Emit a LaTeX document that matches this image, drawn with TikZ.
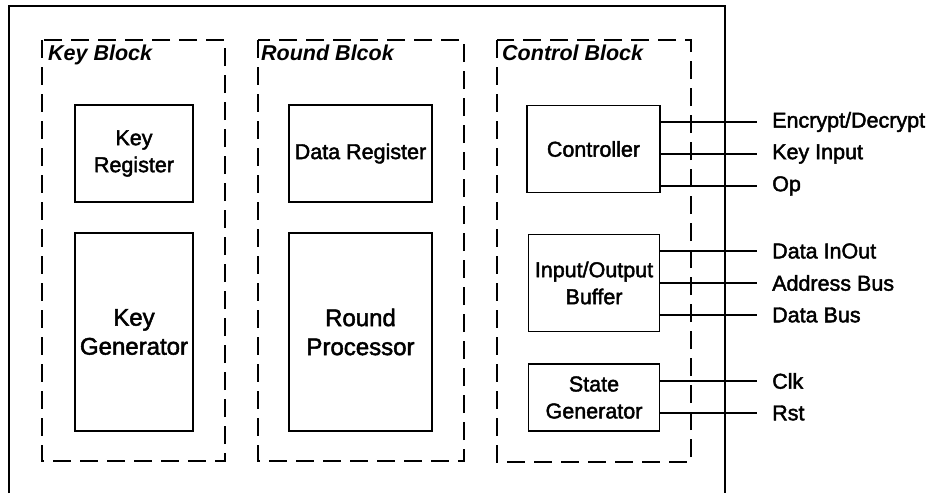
\documentclass[tikz,border=0pt]{standalone}
\usepackage{fontspec}
\setmainfont{Liberation Sans}
\newfontfamily\heavyfont{Liberation Sans}[FakeBold=2]
\begin{document}
\begin{tikzpicture}[x=1pt,y=-1pt,
  every node/.style={font=\fontsize{21.5}{27}\selectfont\heavyfont},
  frame/.style={line width=1.4pt},
  blockbox/.style={draw,line width=2.6pt,dash pattern=on 18pt off 9pt},
  unit/.style={draw,line width=1.6pt,align=center,inner sep=0pt},
  bigtext/.style={font=\fontsize{24}{29}\selectfont\heavyfont},
  wire/.style={line width=2pt},
  lbl/.style={anchor=west,inner xsep=15pt,inner ysep=0pt},
  title/.style={anchor=north west,inner sep=0pt,font=\fontsize{21.5}{27}\selectfont\itshape\bfseries}]
\useasboundingbox (0,0) rectangle (929,493);
\draw[frame] (9,493) -- (9,6) -- (725,6) -- (725,493);
% dashed blocks
\draw[blockbox] (42,40) rectangle (225,461);
\draw[blockbox] (258,40) rectangle (464,461);
\draw[blockbox] (497,40) rectangle (691,462);
\node[title] (tk) at (48,45) {Key Block};
\node[title] (tr) at (261,45) {Round Blcok};
\node[title] (tc) at (502,45) {Control Block};
% units
\node[unit,minimum width=118pt,minimum height=97pt] (kreg) at (134,153.5) {Key\\Register};
\node[unit,bigtext,minimum width=118pt,minimum height=198pt] (kgen) at (134,332) {Key\\Generator};
\node[unit,minimum width=143pt,minimum height=97pt] (dreg) at (360.5,153.5) {Data Register};
\node[unit,bigtext,minimum width=143pt,minimum height=198pt] (rproc) at (360.5,332) {Round\\Processor};
\node[unit,minimum width=133pt,minimum height=87pt] (ctrl) at (593.5,149) {Controller};
\node[unit,minimum width=131pt,minimum height=97pt] (iob) at (594,283) {Input/Output\\Buffer};
\node[unit,minimum width=131pt,minimum height=67pt] (sgen) at (594,397.5) {State\\Generator};
% labels
\node[lbl] (ed) at (757,122) {Encrypt/Decrypt};
\node[lbl] (ki) at (757,154) {Key Input};
\node[lbl] (op) at (757,186) {Op};
\node[lbl] (dio) at (757,251) {Data InOut};
\node[lbl] (ab) at (757,283) {Address Bus};
\node[lbl] (db) at (757,315) {Data Bus};
\node[lbl] (clk) at (757,381) {Clk};
\node[lbl] (rst) at (757,413) {Rst};
% wires
\draw[wire] (ctrl.east |- ed.west) -- (ed.west);
\draw[wire] (ctrl.east |- ki.west) -- (ki.west);
\draw[wire] (ctrl.east |- op.west) -- (op.west);
\draw[wire] (iob.east |- dio.west) -- (dio.west);
\draw[wire] (iob.east |- ab.west) -- (ab.west);
\draw[wire] (iob.east |- db.west) -- (db.west);
\draw[wire] (sgen.east |- clk.west) -- (clk.west);
\draw[wire] (sgen.east |- rst.west) -- (rst.west);
\end{tikzpicture}
\end{document}
